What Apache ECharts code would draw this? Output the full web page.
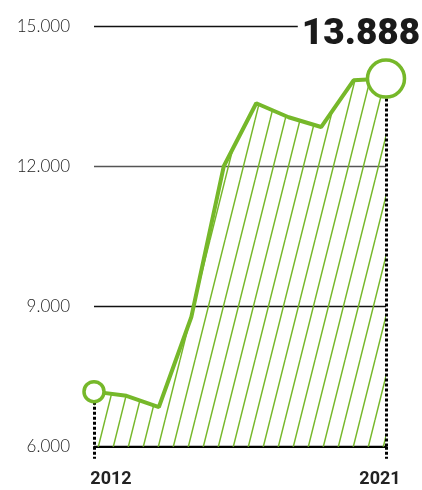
<!DOCTYPE html>
<html><head><meta charset="utf-8">
<script src="https://cdn.jsdelivr.net/npm/echarts@6/dist/echarts.min.js"></script>
<style>html,body{margin:0;padding:0;background:#fff}#c{width:422px;height:490px}</style>
</head><body><div id="c"></div>
<script>
const years = ['2012','2013','2014','2015','2016','2017','2018','2019','2020','2021'];
const values = [7180, 7090, 6850, 8780, 12010, 13360, 13060, 12850, 13850, 13888];
const yTicks = [6000, 9000, 12000, 15000];

const GREEN = '#76b82a';
function fmt(v){ return String(v).replace(/\B(?=(\d{3})+(?!\d))/g, '.'); }

// hatch pattern tile
const tile = document.createElement('canvas');
tile.width = 15; tile.height = 60;
const ctx = tile.getContext('2d');
ctx.strokeStyle = GREEN; ctx.lineWidth = 1.4;
for (const x0 of [-15, 0, 15]) {
  ctx.beginPath(); ctx.moveTo(x0, 60); ctx.lineTo(x0 + 15, 0); ctx.stroke();
}

const last = values.length - 1;
const endPoints = values.map((v, i) => {
  if (i === 0) return { value: [years[i], v], symbolSize: 20 };
  if (i === last) return {
    value: [years[i], v], symbolSize: 37,
    label: {
      show: true, position: 'inside', offset: [-26, -44],
      formatter: p => fmt(p.value[1]),
      fontFamily: 'Roboto', fontWeight: 900, fontSize: 37, color: '#1a1a1a',
      backgroundColor: '#fff', padding: [0, 2, 0, 4], lineHeight: 40
    }
  };
  return null;
}).filter(d => d);

const chart = echarts.init(document.getElementById('c'), null, { renderer: 'canvas' });
chart.setOption({
  animation: false,
  grid: { left: 94, right: 36, top: 26.7, bottom: 43.3, containLabel: false },
  xAxis: {
    type: 'category', data: years, boundaryGap: false,
    axisLine: { show: true, lineStyle: { color: '#000', width: 2 } },
    axisTick: {
      show: true, length: 12, interval: (i) => i === 0 || i === last,
      lineStyle: { color: '#000', width: 3, type: [3, 2] }
    },
    axisLabel: {
      interval: (i) => i === 0 || i === last, margin: 24,
      formatter: (v, i) => i === 0 ? '{a|' + v + '}' : '{b|' + v + '}',
      rich: {
        a: { fontFamily: 'Roboto', fontWeight: 'bold', fontSize: 18, color: '#222', padding: [0, 0, 0, 34] },
        b: { fontFamily: 'Roboto', fontWeight: 'bold', fontSize: 18, color: '#222', padding: [0, 12, 0, 0] }
      }
    },
    splitLine: { show: false }
  },
  yAxis: {
    type: 'value', min: 6000, max: 15000, interval: 3000,
    axisLine: { show: false }, axisTick: { show: false },
    axisLabel: {
      formatter: v => fmt(v), margin: 24,
      fontFamily: 'Lato', fontWeight: 300, fontSize: 17, color: '#222'
    },
    splitLine: { show: true, lineStyle: { color: ['#000', '#111', '#555', '#111'], width: 1.4 } }
  },
  series: [{
    type: 'line', data: values, symbol: 'none',
    lineStyle: { color: GREEN, width: 4 },
    areaStyle: { color: { image: tile, repeat: 'repeat' }, opacity: 1 },
    z: 3,
    markLine: {
      silent: true, symbol: 'none', label: { show: false },
      lineStyle: { color: '#000', width: 3, type: [3, 2] },
      data: [
        [{ coord: [years[0], values[0]] }, { coord: [years[0], yTicks[0]] }],
        [{ coord: [years[last], values[last]] }, { coord: [years[last], yTicks[0]] }]
      ]
    }
  }, {
    type: 'scatter', data: endPoints, symbol: 'circle', z: 10,
    itemStyle: { color: '#fff', borderColor: GREEN, borderWidth: 3.5, opacity: 1 }
  }]
});
</script></body></html>
